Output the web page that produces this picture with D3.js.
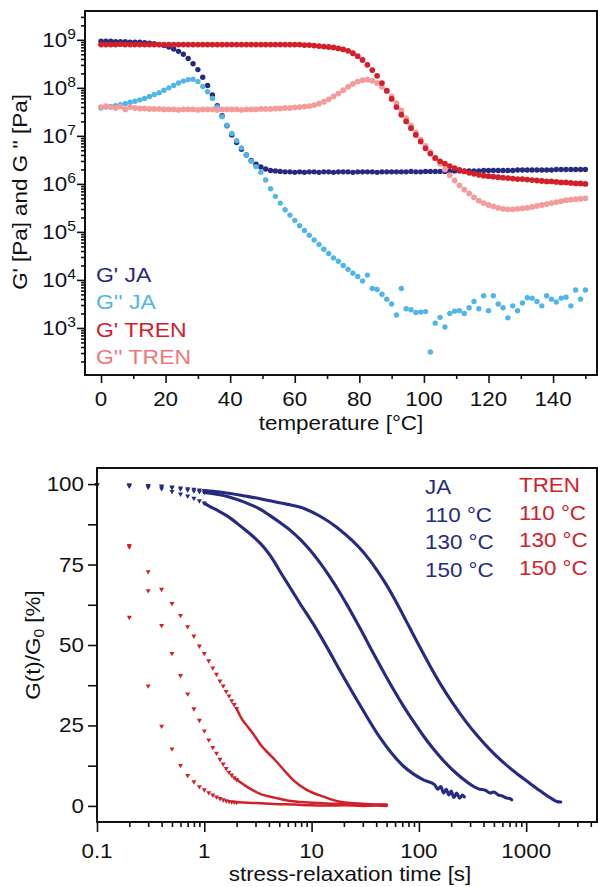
<!DOCTYPE html>
<html><head><meta charset="utf-8">
<script src="https://cdn.jsdelivr.net/npm/d3@7"></script>
<style>
body{margin:0;background:#fff}
svg{display:block}
text{font-family:"Liberation Sans",Arial,Helvetica,sans-serif}
</style>
</head><body>
<svg id="c" width="598" height="887"></svg>
<script>
// ---------- DATA: temperature sweep (top) ----------
const temps = [0,1.5,3,4.5,6,7.5,9,10.5,12,13.5,15,16.5,18,19.5,21,22.5,24,25.5,27,28.5,30,31.5,33,34.5,36,37.5,39,40.5,42,43.5,45,46.5,48,49.5,51,52.5,54,55.5,57,58.5,60,61.5,63,64.5,66,67.5,69,70.5,72,73.5,75,76.5,78,79.5,81,82.5,84,85.5,87,88.5,90,91.5,93,94.5,96,97.5,99,100.5,102,103.5,105,106.5,108,109.5,111,112.5,114,115.5,117,118.5,120,121.5,123,124.5,126,127.5,129,130.5,132,133.5,135,136.5,138,139.5,141,142.5,144,145.5,147,148.5,150];
// log10 of modulus in Pa
const logGpJA = [8.97,8.97,8.97,8.96,8.96,8.96,8.95,8.95,8.95,8.94,8.93,8.92,8.90,8.88,8.85,8.81,8.76,8.70,8.61,8.50,8.38,8.22,8.05,7.85,7.63,7.42,7.21,7.02,6.86,6.72,6.60,6.49,6.41,6.35,6.31,6.28,6.27,6.26,6.25,6.25,6.24,6.25,6.24,6.25,6.25,6.24,6.25,6.25,6.24,6.25,6.25,6.25,6.24,6.25,6.25,6.25,6.25,6.24,6.25,6.25,6.25,6.25,6.25,6.25,6.26,6.25,6.25,6.26,6.26,6.26,6.26,6.26,6.26,6.27,6.27,6.27,6.27,6.27,6.27,6.28,6.28,6.28,6.28,6.28,6.28,6.28,6.29,6.29,6.29,6.29,6.29,6.29,6.29,6.29,6.30,6.30,6.30,6.30,6.30,6.30,6.30];
const logGppJA = [7.58,7.60,7.61,7.63,7.65,7.67,7.70,7.72,7.75,7.78,7.82,7.86,7.90,7.95,8.00,8.05,8.10,8.14,8.17,8.18,8.13,8.03,7.92,7.78,7.60,7.40,7.22,7.05,6.90,6.75,6.60,6.47,6.36,6.24,6.08,5.90,5.74,5.60,5.46,5.35,5.24,5.13,5.03,4.93,4.83,4.74,4.64,4.55,4.46,4.39,4.30,4.22,4.14,4.07,3.98,4.10,3.82,3.80,3.70,3.60,3.50,3.27,3.82,3.40,3.38,3.32,3.33,3.34,2.50,3.10,3.22,3.02,3.30,3.35,3.36,3.30,3.42,3.55,3.40,3.67,3.36,3.67,3.50,3.42,3.21,3.46,3.36,3.52,3.63,3.62,3.55,3.46,3.67,3.60,3.54,3.62,3.64,3.46,3.79,3.60,3.79];
const logGpTREN = [8.90,8.90,8.90,8.90,8.91,8.90,8.90,8.90,8.90,8.90,8.90,8.90,8.90,8.90,8.90,8.90,8.90,8.90,8.90,8.90,8.90,8.90,8.90,8.90,8.90,8.90,8.90,8.90,8.90,8.90,8.90,8.90,8.90,8.90,8.90,8.90,8.90,8.90,8.90,8.90,8.90,8.90,8.89,8.89,8.88,8.87,8.86,8.85,8.84,8.82,8.80,8.77,8.72,8.66,8.58,8.48,8.37,8.25,8.10,7.94,7.77,7.60,7.44,7.30,7.16,7.02,6.88,6.74,6.63,6.54,6.47,6.42,6.37,6.33,6.29,6.26,6.23,6.21,6.19,6.17,6.16,6.15,6.14,6.13,6.12,6.11,6.10,6.10,6.09,6.08,6.07,6.06,6.05,6.05,6.04,6.03,6.03,6.02,6.01,6.01,6.00];
const logGppTREN = [7.60,7.62,7.60,7.58,7.61,7.55,7.60,7.58,7.57,7.57,7.56,7.56,7.56,7.55,7.55,7.55,7.54,7.55,7.55,7.55,7.54,7.55,7.55,7.55,7.54,7.55,7.55,7.55,7.55,7.54,7.55,7.55,7.55,7.56,7.56,7.56,7.57,7.57,7.58,7.58,7.59,7.60,7.61,7.62,7.64,7.67,7.71,7.76,7.82,7.88,7.95,8.02,8.08,8.13,8.16,8.17,8.15,8.10,8.02,7.93,7.82,7.68,7.53,7.37,7.22,7.07,6.92,6.79,6.66,6.53,6.42,6.30,6.18,6.07,5.97,5.88,5.80,5.72,5.65,5.60,5.56,5.53,5.50,5.48,5.47,5.47,5.48,5.49,5.50,5.52,5.54,5.56,5.58,5.60,5.62,5.64,5.66,5.67,5.68,5.69,5.70];
const topSeriesNames = ["G' JA", "G'' JA", "G' TREN", "G'' TREN"];
const tempTicks = [0,20,40,60,80,100,120,140];
const modExponents = [3,4,5,6,7,8,9];

// ---------- DATA: stress relaxation (bottom) [time s, G(t)/G0 %] ----------
const relaxJA110 = [[0.1,99.8],[0.2,99.8],[0.3,99.6],[0.4,99.4],[0.5,99.1],[0.6,98.8],[0.7,98.6],[0.8,98.4],[0.9,98.2],[1.0,98.0],[1.5,97.4],[2.4,96.3],[3.4,95.4],[4.1,94.8],[6,93.7],[8.4,92.5],[12,90.0],[17,86.7],[24,82.4],[30.4,78.8],[40,73.6],[50,68.6],[60,64.0],[70,59.8],[82.6,55.2],[100,49.9],[127,43.5],[160,37.7],[209,31.7],[270,26.5],[346,22.0],[450,17.8],[612,13.5],[800,10.3],[1084,7.0],[1400,4.3],[1700,2.4],[1923,1.4],[2100,1.2]];
const relaxJA130 = [[0.1,99.8],[0.2,99.6],[0.3,99.4],[0.4,99.2],[0.5,98.9],[0.6,98.5],[0.7,98.2],[0.8,97.9],[0.9,97.7],[1.0,97.4],[1.67,96.1],[2.4,94.3],[3.4,92.0],[4.1,90.2],[5,88.2],[6.3,85.7],[8,82.5],[9.66,79.5],[12,75.5],[14.9,71.0],[18,66.7],[21.2,62.7],[25,58.5],[28.3,55.2],[31.5,52.3],[35,49.4],[40,45.8],[46.6,41.8],[58,36.2],[71.6,31.1],[90,26.0],[110,21.8],[135,17.9],[169,14.1],[220,10.3],[279,7.5],[360,5.3],[420,4.8],[460,4.0],[500,4.3],[550,3.4],[600,3.1],[650,2.5],[700,2.3],[733,1.9]];
const relaxJA150 = [[0.1,99.7],[0.2,99.4],[0.3,99.0],[0.4,98.6],[0.5,97.7],[0.6,96.9],[0.7,96.3],[0.8,95.6],[0.9,94.8],[1.0,94.1],[1.13,93.0],[1.35,91.7],[1.67,89.9],[2.22,86.7],[2.98,83.1],[3.67,80.0],[4.09,77.9],[5.45,71.2],[7.8,62.9],[11.2,54.7],[13.8,49.5],[18.4,42.0],[28.3,31.3],[43.4,21.2],[71.6,12.4],[110,8.1],[140,6.6],[150,5.2],[160,6.0],[170,4.0],[180,5.2],[190,3.4],[200,4.6],[212,2.6],[225,4.0],[240,2.4],[255,3.4],[265,2.8]];
const relaxTREN110 = [[0.2,80.5],[0.3,72.8],[0.4,67.3],[0.5,62.9],[0.6,59.2],[0.7,55.7],[0.8,52.8],[0.9,49.7],[1.0,47.4],[1.1,45.1],[1.2,42.9],[1.3,40.9],[1.4,38.8],[1.5,37.3],[1.6,35.6],[1.7,34.2],[1.8,32.7],[1.9,31.5],[2.0,30.3],[2.22,27.2],[2.57,24.4],[2.98,21.5],[3.42,18.6],[3.95,16.4],[4.7,13.8],[5.6,10.9],[6.7,8.1],[9.0,5.0],[12.9,2.9],[18.4,1.3],[25,0.8],[35,0.5],[50,0.4]];
const relaxTREN130 = [[0.2,80.9],[0.3,66.9],[0.4,56.1],[0.5,47.4],[0.6,40.5],[0.7,34.8],[0.8,30.2],[0.9,26.6],[1.0,23.3],[1.1,20.5],[1.2,18.2],[1.3,16.4],[1.4,14.5],[1.5,13.0],[1.6,11.6],[1.7,10.5],[1.8,9.6],[1.9,8.8],[2.0,8.2],[2.57,5.7],[3.4,3.6],[4.6,2.5],[6.1,1.6],[8,1.2],[10,1.0],[15,0.7],[20,0.6],[30,0.4],[40,0.3],[50,0.3]];
const relaxTREN150 = [[0.2,58.6],[0.3,37.3],[0.4,24.8],[0.5,17.7],[0.6,12.6],[0.7,9.5],[0.8,7.5],[0.9,6.0],[1.0,5.0],[1.1,4.1],[1.2,3.4],[1.3,2.8],[1.4,2.3],[1.5,1.9],[1.6,1.6],[1.7,1.4],[1.8,1.3],[1.9,1.2],[2.0,1.1],[2.57,1.0],[3.4,0.8],[4.5,0.6],[7,0.4],[10,0.2],[15,0.1],[20,0.2],[30,0.0],[40,0.1],[50,0.0]];
const relaxLegendJA = ["JA","110 °C","130 °C","150 °C"];
const relaxLegendTREN = ["TREN","110 °C","130 °C","150 °C"];
const pctTicks = [0,25,50,75,100];
const timeTicks = [0.1,1,10,100,1000];
const timeTickLabels = ["0.1","1","10","100","1000"];

// ---------- STYLE ----------
const NAVY = "#262a80", LBLUE = "#52b5e8", RED = "#d2202a", PINK = "#f49b9c";
const FS = 20, SX = 1.12;
const svg = d3.select("#c");

function txt(g, x, y, str, o = {}) {
  const t = g.append("text")
    .attr("transform", `translate(${x},${y})${o.rot ? " rotate(-90)" : ""} scale(${SX},1)`)
    .attr("text-anchor", o.anchor || "start")
    .attr("font-size", o.fs || FS)
    .attr("fill", o.fill || "#111");
  if (str !== null) t.text(str);
  return t;
}
function styleAxis(g) {
  g.select(".domain").remove();
  g.selectAll("line").attr("stroke", "#111").attr("stroke-width", 1.6);
}

// ================= TOP CHART =================
const T = {l: 85, r: 597, t: 11, b: 375};
const xT = d3.scaleLinear().domain([-4.96, 153.6]).range([T.l, T.r]);
const yT = d3.scaleLog().domain([Math.pow(10, 2.02), Math.pow(10, 9.6)]).range([T.b, T.t]);
const gTop = svg.append("g");

const topSeries = [
  {vals: logGpJA, color: NAVY},
  {vals: logGppJA, color: LBLUE},
  {vals: logGppTREN, color: PINK},
  {vals: logGpTREN, color: RED}
];
topSeries.forEach(s => {
  gTop.append("g").selectAll("circle")
    .data(temps.map((t, i) => [t, Math.pow(10, s.vals[i])]))
    .join("circle")
    .attr("cx", d => xT(d[0])).attr("cy", d => yT(d[1]))
    .attr("r", s.color === RED || s.color === PINK ? 2.9 : 2.7)
    .attr("fill", s.color);
});

const yMinor = [];
for (let e = 2; e <= 9; e++) for (let m = 2; m <= 9; m++) {
  const v = m * Math.pow(10, e);
  if (v >= yT.domain()[0] && v <= yT.domain()[1]) yMinor.push(v);
}
gTop.append("g").attr("transform", `translate(${T.l},0)`)
  .call(d3.axisLeft(yT).tickValues(yMinor).tickSize(4).tickFormat("")).call(styleAxis);
gTop.append("g").attr("transform", `translate(${T.l},0)`)
  .call(d3.axisLeft(yT).tickValues(modExponents.map(e => Math.pow(10, e))).tickSize(8).tickFormat("")).call(styleAxis);
modExponents.forEach(e => {
  const t = txt(gTop, 76, yT(Math.pow(10, e)) + 7, null, {anchor: "end"});
  t.append("tspan").text("10");
  t.append("tspan").attr("dy", -8).attr("font-size", 14).text(e);
});
gTop.append("g").attr("transform", `translate(0,${T.b})`)
  .call(d3.axisBottom(xT).tickValues(tempTicks.map(v => v + 10)).tickSize(4).tickFormat("")).call(styleAxis);
gTop.append("g").attr("transform", `translate(0,${T.b})`)
  .call(d3.axisBottom(xT).tickValues(tempTicks).tickSize(8).tickFormat("")).call(styleAxis);
tempTicks.forEach(v => txt(gTop, xT(v), 406, String(v), {anchor: "middle"}));

gTop.append("rect").attr("x", T.l).attr("y", T.t).attr("width", T.r - T.l).attr("height", T.b - T.t)
  .attr("fill", "none").attr("stroke", "#111").attr("stroke-width", 2);

txt(gTop, 341, 430, "temperature [°C]", {anchor: "middle"});
txt(gTop, 27, 192, "G' [Pa] and G '' [Pa]", {anchor: "middle", rot: true});

const legCols = [NAVY, LBLUE, RED, "#f0767b"];
topSeriesNames.forEach((n, i) => txt(gTop, 96, 282 + i * 27.4, n, {fill: legCols[i], fs: 20.5}));

// ================= BOTTOM CHART =================
const B = {l: 97, r: 597, t: 468, b: 822};
const xB = d3.scaleLog().domain([0.1, Math.pow(10, 3.66)]).range([B.l, B.r]);
const yB = d3.scaleLinear().domain([-5, 105]).range([B.b, B.t]);
const gBot = svg.append("g");

const line = d3.line().curve(d3.curveMonotoneX).x(d => xB(d[0])).y(d => yB(d[1]));
const tri = d3.symbol().type(d3.symbolTriangle).size(11);
const relaxSeries = [
  {data: relaxJA110, color: NAVY, cut: 1.0, w: 3.1},
  {data: relaxJA130, color: NAVY, cut: 1.0, w: 3.1},
  {data: relaxJA150, color: NAVY, cut: 1.0, w: 3.1},
  {data: relaxTREN110, color: RED, cut: 2.0, w: 2.5},
  {data: relaxTREN130, color: RED, cut: 2.0, w: 2.5},
  {data: relaxTREN150, color: RED, cut: 2.0, w: 2.5}
];
relaxSeries.forEach(s => {
  gBot.append("path").datum(s.data.filter(d => d[0] >= s.cut))
    .attr("d", line).attr("fill", "none").attr("stroke", s.color)
    .attr("stroke-width", s.w).attr("stroke-linejoin", "round").attr("stroke-linecap", "round");
  gBot.append("g").selectAll("path").data(s.data.filter(d => d[0] <= s.cut)).join("path")
    .attr("d", tri)
    .attr("transform", d => `translate(${xB(d[0])},${yB(d[1])}) rotate(180)`)
    .attr("fill", s.color);
});

const pctMinor = pctTicks.slice(0, -1).map(v => v + 12.5);
gBot.append("g").attr("transform", `translate(${B.l},0)`)
  .call(d3.axisLeft(yB).tickValues(pctTicks.concat(pctMinor)).tickSize(9).tickFormat("")).call(styleAxis);
pctTicks.forEach(v => txt(gBot, 84, yB(v) + 7, String(v), {anchor: "end"}));

const tMinor = [];
for (let e = -1; e <= 3; e++) for (let m = 2; m <= 9; m++) {
  const v = m * Math.pow(10, e);
  if (v <= xB.domain()[1]) tMinor.push(v);
}
gBot.append("g").attr("transform", `translate(0,${B.b})`)
  .call(d3.axisBottom(xB).tickValues(tMinor).tickSize(5).tickFormat("")).call(styleAxis);
gBot.append("g").attr("transform", `translate(0,${B.b})`)
  .call(d3.axisBottom(xB).tickValues(timeTicks).tickSize(10).tickFormat("")).call(styleAxis);
timeTicks.forEach((v, i) => txt(gBot, xB(v), 858, timeTickLabels[i], {anchor: "middle"}));

gBot.append("rect").attr("x", B.l).attr("y", B.t).attr("width", B.r - B.l).attr("height", B.b - B.t)
  .attr("fill", "none").attr("stroke", "#111").attr("stroke-width", 2);

txt(gBot, 350, 881, "stress-relaxation time [s]", {anchor: "middle"});
const yl = txt(gBot, 40, 645, null, {anchor: "middle", rot: true});
yl.append("tspan").text("G(t)/G");
yl.append("tspan").attr("font-size", 14).attr("dy", 4).text("0");
yl.append("tspan").attr("dy", -4).text(" [%]");

relaxLegendJA.forEach((s, i) => txt(gBot, 425, 494 + i * 27.7, s, {fill: NAVY}));
relaxLegendTREN.forEach((s, i) => txt(gBot, 519, 492 + i * 27.5, s, {fill: RED}));
</script>
</body></html>
